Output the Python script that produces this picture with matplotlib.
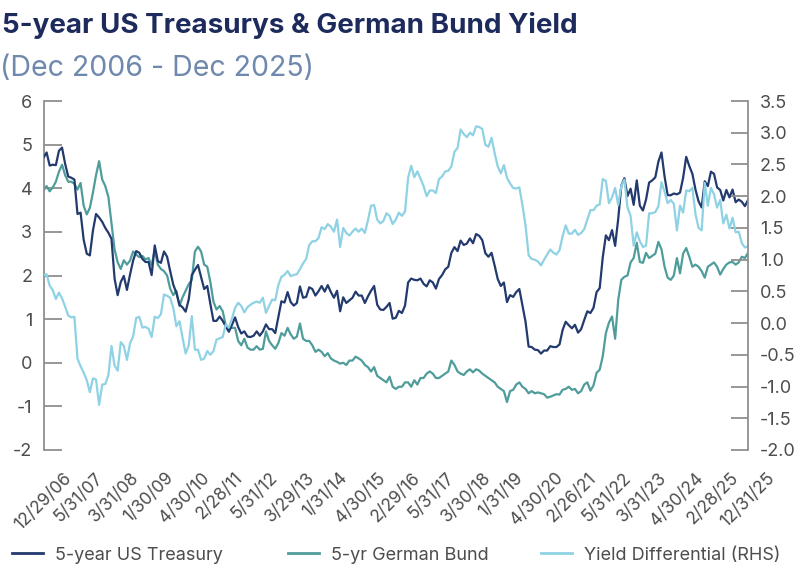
import numpy as np
import matplotlib
matplotlib.use("Agg")
import matplotlib.pyplot as plt
from matplotlib.lines import Line2D

plt.rcParams['font.family'] = ['Inter', 'DejaVu Sans']

title = "5-year US Treasurys & German Bund Yield"
subtitle = "(Dec 2006 - Dec 2025)"
series_names = ["5-year US Treasury", "5-yr German Bund", "Yield Differential (RHS)"]

x_labels = ["12/29/06", "5/31/07", "3/31/08", "1/30/09", "4/30/10", "2/28/11", "5/31/12",
            "3/29/13", "1/31/14", "4/30/15", "2/29/16", "5/31/17", "3/30/18", "1/31/19",
            "4/30/20", "2/26/21", "5/31/22", "3/31/23", "4/30/24", "2/28/25", "12/31/25"]

left_ticks = [6, 5, 4, 3, 2, 1, 0, -1, -2]
left_tick_labels = ["6", "5", "4", "3", "2", "1", "0", "-1", "-2"]
right_ticks = [3.5, 3.0, 2.5, 2.0, 1.5, 1.0, 0.5, 0.0, -0.5, -1.0, -1.5, -2.0]
right_tick_labels = ["3.5", "3.0", "2.5", "2.0", "1.5", "1.0", "0.5", "0.0", "-0.5", "-1.0", "-1.5", "-2.0"]

ust = [4.70, 4.82, 4.52, 4.54, 4.53, 4.86, 4.93, 4.56, 4.27, 4.24, 4.20, 3.41, 3.44,
       2.82, 2.50, 2.46, 3.03, 3.41, 3.33, 3.23, 3.09, 2.98, 2.84, 1.93, 1.55,
       1.85, 1.99, 1.67, 2.02, 2.34, 2.56, 2.52, 2.38, 2.31, 2.31, 2.01, 2.69,
       2.33, 2.29, 2.55, 2.43, 2.10, 1.79, 1.60, 1.33, 1.27, 1.17, 1.45, 2.01,
       2.13, 2.24, 1.97, 1.69, 1.76, 1.35, 0.96, 0.96, 1.06, 0.96, 0.83, 0.71,
       0.87, 1.04, 0.82, 0.67, 0.72, 0.60, 0.59, 0.62, 0.72, 0.62, 0.72, 0.88,
       0.77, 0.77, 0.68, 1.05, 1.41, 1.38, 1.62, 1.39, 1.31, 1.37, 1.75, 1.49,
       1.51, 1.73, 1.69, 1.54, 1.64, 1.76, 1.63, 1.78, 1.62, 1.49, 1.65, 1.18,
       1.50, 1.37, 1.43, 1.49, 1.63, 1.54, 1.54, 1.37, 1.52, 1.65, 1.76, 1.33,
       1.22, 1.21, 1.28, 1.37, 1.01, 1.03, 1.19, 1.14, 1.31, 1.84, 1.93, 1.90,
       1.89, 1.93, 1.81, 1.75, 1.89, 1.84, 1.70, 1.92, 2.01, 2.14, 2.20, 2.52,
       2.65, 2.56, 2.80, 2.70, 2.73, 2.85, 2.74, 2.95, 2.91, 2.81, 2.51, 2.43,
       2.52, 2.23, 1.92, 1.76, 1.84, 1.39, 1.55, 1.51, 1.62, 1.69, 1.31, 0.94,
       0.37, 0.36, 0.30, 0.29, 0.21, 0.28, 0.28, 0.38, 0.36, 0.36, 0.42, 0.75,
       0.94, 0.86, 0.79, 0.87, 0.69, 0.77, 0.98, 1.18, 1.14, 1.26, 1.62, 1.71,
       2.42, 2.92, 2.81, 3.04, 2.68, 3.30, 4.06, 4.23, 3.82, 3.99, 3.62, 4.18,
       3.60, 3.49, 3.74, 4.13, 4.18, 4.25, 4.61, 4.82, 4.27, 3.84, 3.84, 3.88,
       3.86, 3.90, 4.24, 4.72, 4.51, 4.33, 3.97, 3.70, 3.56, 4.16, 4.05, 4.38,
       4.33, 4.02, 3.96, 3.72, 3.96, 3.79, 3.97, 3.68, 3.74, 3.69, 3.59, 3.73]

bund = [3.95, 4.05, 3.93, 4.02, 4.15, 4.38, 4.54, 4.30, 4.15, 4.15, 4.10, 3.97, 4.12,
        3.60, 3.40, 3.55, 3.90, 4.30, 4.62, 4.20, 4.05, 3.80, 3.20, 2.60, 2.30,
        2.15, 2.35, 2.25, 2.34, 2.55, 2.48, 2.42, 2.45, 2.37, 2.40, 2.23, 2.59,
        2.25, 2.15, 2.10, 2.00, 1.70, 1.55, 1.65, 1.30, 1.50, 1.65, 1.80, 1.90,
        2.55, 2.66, 2.55, 2.25, 2.20, 1.85, 1.40, 1.22, 1.30, 1.18, 0.85, 0.78,
        0.80, 0.80, 0.50, 0.40, 0.55, 0.35, 0.30, 0.30, 0.38, 0.30, 0.32, 0.72,
        0.50, 0.40, 0.32, 0.45, 0.68, 0.62, 0.80, 0.65, 0.55, 0.60, 0.90, 0.55,
        0.50, 0.50, 0.40, 0.25, 0.30, 0.25, 0.15, 0.22, 0.10, 0.05, 0.02, -0.02,
        0.00, -0.05, 0.05, 0.05, 0.14, 0.10, 0.05, -0.05, -0.10, -0.20, -0.10, -0.30,
        -0.35, -0.40, -0.45, -0.32, -0.55, -0.60, -0.55, -0.55, -0.45, -0.45, -0.55, -0.40,
        -0.50, -0.35, -0.35, -0.25, -0.20, -0.25, -0.35, -0.35, -0.30, -0.25, -0.20, 0.05,
        -0.05, -0.20, -0.25, -0.28, -0.20, -0.15, -0.22, -0.15, -0.18, -0.25, -0.30, -0.35,
        -0.40, -0.45, -0.55, -0.60, -0.65, -0.90, -0.65, -0.62, -0.50, -0.45, -0.55, -0.60,
        -0.70, -0.65, -0.70, -0.68, -0.70, -0.72, -0.80, -0.78, -0.75, -0.72, -0.73, -0.62,
        -0.60, -0.55, -0.62, -0.60, -0.70, -0.65, -0.50, -0.45, -0.64, -0.52, -0.23, -0.16,
        0.15, 0.68, 0.92, 1.06, 0.55, 1.44, 1.90, 1.97, 2.00, 2.30, 2.40, 2.75,
        2.31, 2.29, 2.52, 2.40, 2.45, 2.50, 2.77, 2.60, 2.20, 1.95, 1.90, 2.00,
        2.40, 2.05, 2.50, 2.63, 2.43, 2.20, 2.25, 2.20, 2.10, 1.95, 2.20, 2.25,
        2.30, 2.20, 2.02, 2.15, 2.25, 2.30, 2.31, 2.25, 2.30, 2.43, 2.40, 2.52]

diff = [0.75, 0.77, 0.59, 0.52, 0.38, 0.48, 0.39, 0.26, 0.12, 0.09, 0.10, -0.56, -0.68,
        -0.78, -0.90, -1.09, -0.87, -0.89, -1.29, -0.97, -0.96, -0.82, -0.36, -0.67, -0.75,
        -0.30, -0.36, -0.58, -0.32, -0.21, 0.08, 0.10, -0.07, -0.06, -0.09, -0.22, 0.10,
        0.08, 0.14, 0.45, 0.43, 0.40, 0.24, -0.05, 0.03, -0.23, -0.48, -0.35, 0.11,
        -0.42, -0.42, -0.58, -0.56, -0.44, -0.50, -0.44, -0.26, -0.24, -0.22, -0.02, -0.07,
        0.07, 0.24, 0.32, 0.27, 0.17, 0.25, 0.29, 0.32, 0.34, 0.32, 0.40, 0.16,
        0.27, 0.37, 0.36, 0.60, 0.73, 0.76, 0.82, 0.74, 0.76, 0.77, 0.85, 0.94,
        1.01, 1.23, 1.29, 1.29, 1.34, 1.51, 1.48, 1.56, 1.52, 1.44, 1.63, 1.20,
        1.50, 1.42, 1.38, 1.44, 1.49, 1.44, 1.49, 1.42, 1.62, 1.85, 1.86, 1.63,
        1.57, 1.61, 1.73, 1.69, 1.56, 1.63, 1.74, 1.69, 1.76, 2.29, 2.48, 2.30,
        2.39, 2.28, 2.16, 2.00, 2.09, 2.09, 2.05, 2.27, 2.31, 2.39, 2.40, 2.47,
        2.70, 2.76, 3.05, 2.98, 2.93, 3.00, 2.96, 3.10, 3.09, 3.06, 2.81, 2.78,
        2.92, 2.68, 2.47, 2.36, 2.49, 2.29, 2.20, 2.13, 2.12, 2.14, 1.86, 1.54,
        1.07, 1.01, 1.00, 0.97, 0.91, 1.00, 1.08, 1.16, 1.11, 1.08, 1.15, 1.37,
        1.54, 1.41, 1.41, 1.47, 1.39, 1.42, 1.48, 1.63, 1.78, 1.78, 1.85, 1.87,
        2.27, 2.24, 1.89, 1.98, 2.13, 1.86, 2.16, 2.26, 1.82, 1.69, 1.22, 1.43,
        1.29, 1.20, 1.22, 1.73, 1.73, 1.75, 1.84, 2.22, 2.07, 1.89, 1.94, 1.88,
        1.46, 1.85, 1.74, 2.09, 2.08, 2.13, 1.72, 1.50, 1.46, 2.21, 1.85, 2.13,
        2.03, 1.82, 1.94, 1.57, 1.71, 1.49, 1.66, 1.43, 1.44, 1.26, 1.19, 1.21]

navy = "#233a6e"
teal = "#4f9d9b"
light = "#8ed2e4"
grey_txt = "#4d4d4d"
grey_ax = "#8f8f8f"

W, H = 800, 571
fig = plt.figure(figsize=(W / 100, H / 100), dpi=100)
ax = fig.add_axes([43.5 / W, 1 - 450 / H, (748 - 43.5) / W, (450 - 101) / H])
ax2 = ax.twinx()

x = np.arange(len(ust))
ax.plot(x, ust, color=navy, lw=1.6, zorder=3)
ax.plot(x, bund, color=teal, lw=1.6, zorder=2)
ax2.plot(x, diff, color=light, lw=1.6)

ax.set_xlim(0, len(ust) - 1)
ax.set_ylim(-2, 6)
ax2.set_ylim(-2, 3.5)

ax.set_yticks(left_ticks)
ax.set_yticklabels(left_tick_labels)
ax2.set_yticks(right_ticks)
ax2.set_yticklabels(right_tick_labels)

ax.set_xticks(np.linspace(0, len(ust) - 1, len(x_labels)))
ax.set_xticklabels(x_labels, rotation=45, ha="center")

for s in ["top", "right", "bottom"]:
    ax.spines[s].set_visible(False)
for s in ["top", "left", "bottom"]:
    ax2.spines[s].set_visible(False)
ax.spines["left"].set_color(grey_ax)
ax.spines["left"].set_linewidth(1.3)
ax2.spines["right"].set_color(grey_ax)
ax2.spines["right"].set_linewidth(1.3)

ax.tick_params(axis="y", direction="in", length=13, width=1.3, color=grey_ax,
               labelsize=13, labelcolor=grey_txt, pad=8)
ax2.tick_params(axis="y", direction="in", length=12.5, width=1.3, color=grey_ax,
                labelsize=13, labelcolor=grey_txt, pad=8.5)
ax.tick_params(axis="x", length=0, labelsize=12.5, labelcolor=grey_txt, pad=14)

fig.text(2 / W, 1 - 33 / H, title, fontsize=20, fontweight="bold", color="#1d2a5c",
         ha="left", va="baseline")
fig.text(0 / W, 1 - 76 / H, subtitle, fontsize=20.5, color="#6f88ad",
         ha="left", va="baseline")

colors = [navy, teal, light]
leg_x = [12, 288, 541]
for name, c, lx in zip(series_names, colors, leg_x):
    h = Line2D([], [], color=c, lw=2)
    fig.legend([h], [name], loc="center left", bbox_to_anchor=(lx / W, 1 - 555 / H),
               frameon=False, fontsize=13, labelcolor=grey_txt, handlelength=1.7,
               handletextpad=0.7, borderpad=0, borderaxespad=0)

fig.savefig("out.png", dpi=100)
